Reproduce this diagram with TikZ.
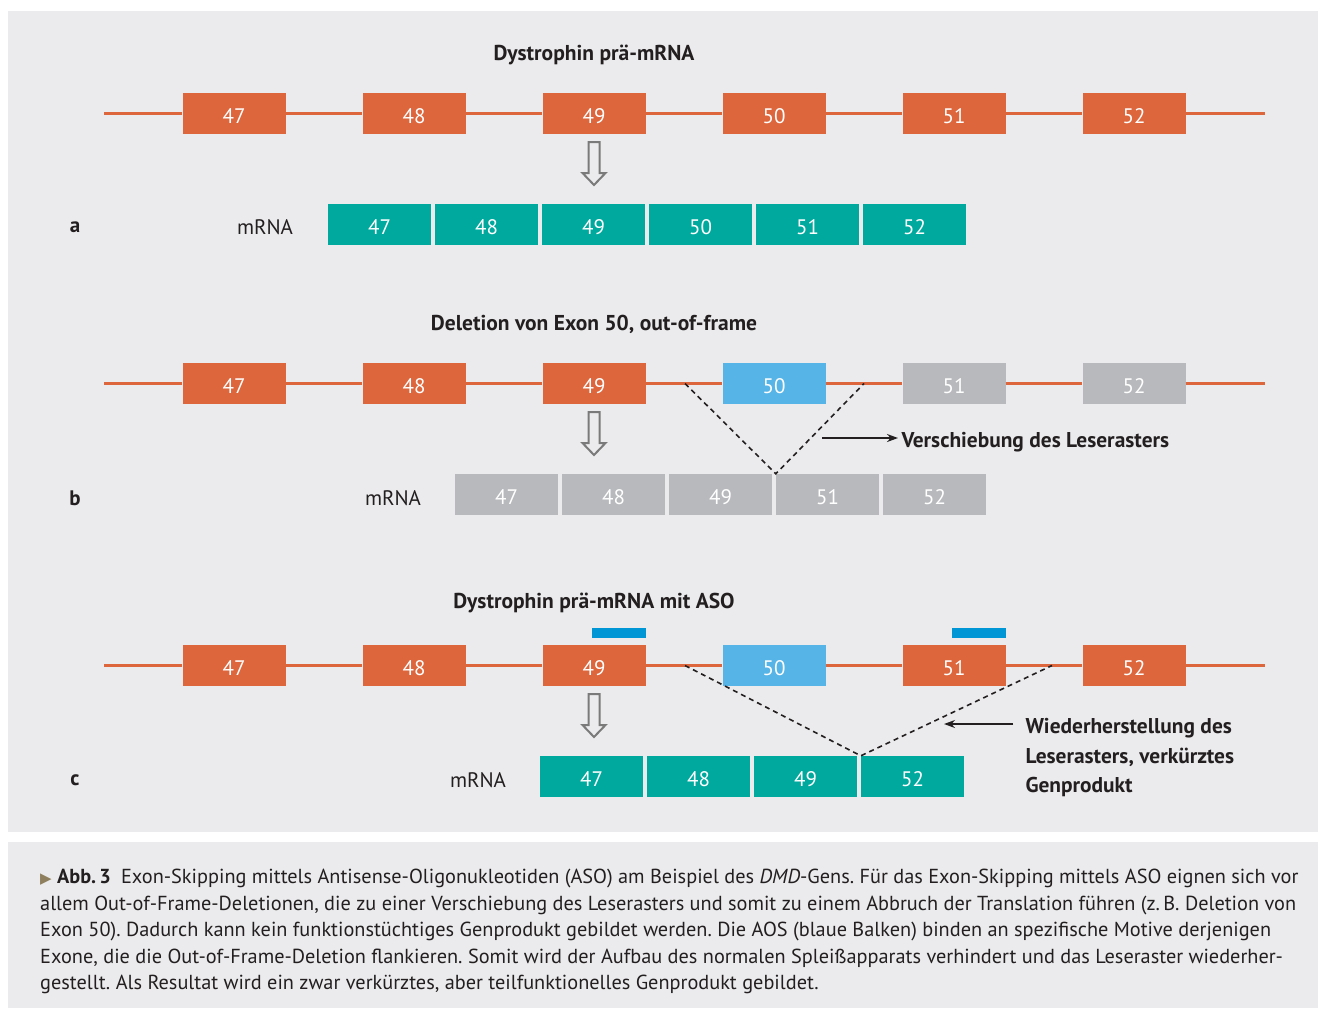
\documentclass[tikz,border=0pt]{standalone}
\usepackage{fontspec}
\setmainfont{PT Sans}
\newfontfamily\symfont{DejaVu Sans}
\usetikzlibrary{arrows.meta}
\definecolor{exonred}{HTML}{DD663D}
\definecolor{mrnagreen}{HTML}{00A99D}
\definecolor{delblue}{HTML}{56B4E6}
\definecolor{lostgray}{HTML}{B8B9BC}
\definecolor{asoblue}{HTML}{0096D6}
\definecolor{panel}{HTML}{EBEBED}
\definecolor{ink}{HTML}{231F20}
\definecolor{capmark}{HTML}{8E7F5E}
\definecolor{arrowgray}{HTML}{7A7A7A}
\tikzset {>=Stealth}
\tikzset{
  box/.style={rectangle, inner sep=0pt, minimum width=103pt, minimum height=41pt,
    text height=20pt, text depth=0pt, text=white, font=\fontsize{21}{21}\selectfont},
  exon/.style={box, fill=exonred},
  mrna/.style={box, fill=mrnagreen},
  deleted/.style={box, fill=delblue},
  lost/.style={box, fill=lostgray},
  aso/.style={rectangle, inner sep=0pt, minimum width=54pt, minimum height=10pt, fill=asoblue},
  intron/.style={exonred, line width=2.5pt},
  splice/.style={ink, line width=1.6pt, dash pattern=on 5pt off 4pt},
  pointer/.style={ink, line width=1.6pt, -{Stealth[length=11pt,width=8pt]}},
  hollow/.style={arrowgray, line width=2pt, fill=panel},
  title/.style={text=ink, font=\bfseries\fontsize{21.5}{21.5}\selectfont},
  label/.style={text=ink, font=\fontsize{21}{21}\selectfont},
  note/.style={text=ink, font=\bfseries\fontsize{21.4}{29.5}\selectfont, align=left, anchor=west},
  caption/.style={text=ink, font=\frenchspacing\fontsize{20.3}{26.5}\selectfont, align=left,
    anchor=north west, inner sep=0pt}
}
\newcommand*{\hollowarrow}[1]{%
  \draw[hollow] (#1) ++(-5.5,0) -- ++(0,31) -- ++(-6,0) -- ++(11.5,12)
    -- ++(11.5,-12) -- ++(-6,0) -- ++(0,-31) -- cycle;}
\newcommand*{\capmark}{{\symfont\color{capmark}\fontsize{15}{15}\selectfont ▶}}

\begin{document}
\begin{tikzpicture}[x=1pt,y=-1pt]
\useasboundingbox (0,0) rectangle (1319,1010);
\fill[panel] (8,11) rectangle (1318,832);
\fill[panel] (8,842) rectangle (1318,1008);

% a: normal pre-mRNA
\node[title] (titleA) at (594,55) {Dystrophin prä-mRNA};
\foreach \n [count=\i from 0] in {47,...,52}
  \node[exon] (a\n) at (234+180*\i,113.5) {\n};
\coordinate (aL) at (104,113.5);
\coordinate (aR) at (1265,113.5);
\draw[intron] (aL) -- (a47) -- (a48) -- (a49) -- (a50) -- (a51) -- (a52) -- (aR);
\hollowarrow{594,142}
\node[label] (labA) at (75,227) {\textbf{a}};
\node[label] (mrnaA) at (265,227) {mRNA};
\foreach \n [count=\i from 0] in {47,...,52}
  \node[mrna] (ma\n) at (379.5+107*\i,224.5) {\n};

% b: deletion of exon 50
\node[title] (titleB) at (594,324) {Deletion von Exon 50, out-of-frame};
\foreach \n/\s [count=\i from 0] in {47/exon,48/exon,49/exon,50/deleted,51/lost,52/lost}
  \node[\s] (b\n) at (234+180*\i,383.5) {\n};
\coordinate (bL) at (104,383.5);
\coordinate (bR) at (1265,383.5);
\draw[intron] (bL) -- (b47) -- (b48) -- (b49) -- (b50) -- (b51) -- (b52) -- (bR);
\hollowarrow{594,412}
\node[label] (labB) at (75,498) {\textbf{b}};
\node[label] (mrnaB) at (393,498) {mRNA};
\foreach \n [count=\i from 0] in {47,48,49,51,52}
  \node[lost] (mb\n) at (506.5+107*\i,494.5) {\n};
\coordinate (bcut1) at (685,383.5);
\coordinate (bcut2) at (864,383.5);
\draw[splice] (bcut1) -- (mb51.north west) -- (bcut2);
\node[note] (shift) at (898,442) {Verschiebung des Leserasters};
\coordinate (shiftTail) at (822,438);
\draw[pointer] (shiftTail) -- (shift.west |- shiftTail);

% c: exon skipping with ASO
\node[title] (titleC) at (594,603) {Dystrophin prä-mRNA mit ASO};
\foreach \n/\s [count=\i from 0] in {47/exon,48/exon,49/exon,50/deleted,51/exon,52/exon}
  \node[\s] (c\n) at (234+180*\i,665.5) {\n};
\coordinate (cL) at (104,665.5);
\coordinate (cR) at (1265,665.5);
\draw[intron] (cL) -- (c47) -- (c48) -- (c49) -- (c50) -- (c51) -- (c52) -- (cR);
\node[aso] (aso49) at (619,633) {};
\node[aso] (aso51) at (978.5,633) {};
\hollowarrow{594,694}
\node[label] (labC) at (75,780) {\textbf{c}};
\node[label] (mrnaC) at (478,780) {mRNA};
\foreach \n [count=\i from 0] in {47,48,49,52}
  \node[mrna] (mc\n) at (591.5+107*\i,776.5) {\n};
\coordinate (ccut1) at (685,665.5);
\coordinate (ccut2) at (1052,665.5);
\draw[splice] (ccut1) -- (mc52.north west) -- (ccut2);
\node[note] (restore) at (1022,758)
  {Wiederherstellung des\\Leserasters, verkürztes\\Genprodukt};
\coordinate (restoreTail) at (1013,724);
\coordinate (restoreTip) at (944,724);
\draw[pointer] (restoreTail) -- (restoreTip);

% caption
\node[caption] (caption) at (40,869) {%
  \capmark\ \textbf{Abb.\,3}\hspace{0.5em}Exon-Skipping mittels Antisense-Oligonukleotiden (ASO) am Beispiel des \textit{DMD}-Gens. Für das Exon-Skipping mittels ASO eignen sich vor\\
  allem Out-of-Frame-Deletionen, die zu einer Verschiebung des Leserasters und somit zu einem Abbruch der Translation führen (z.\,B. Deletion von\\
  Exon 50). Dadurch kann kein funktionstüchtiges Genprodukt gebildet werden. Die AOS (blaue Balken) binden an spezifische Motive derjenigen\\
  Exone, die die Out-of-Frame-Deletion flankieren. Somit wird der Aufbau des normalen Spleißapparats verhindert und das Leseraster wiederher-\\
  gestellt. Als Resultat wird ein zwar verkürztes, aber teilfunktionelles Genprodukt gebildet.};
\end{tikzpicture}
\end{document}
